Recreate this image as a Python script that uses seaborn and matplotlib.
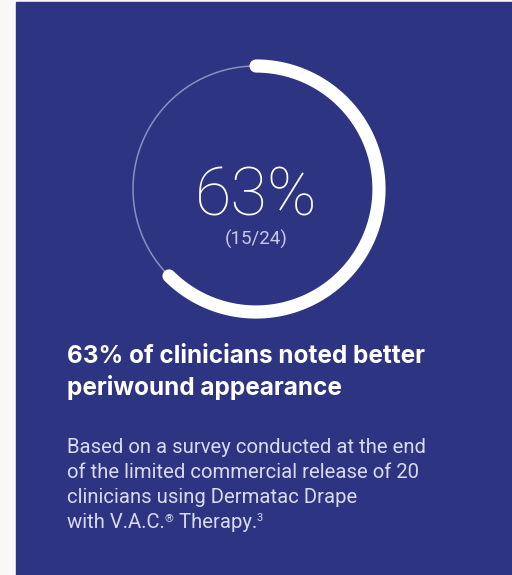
import numpy as np
import matplotlib
matplotlib.use("Agg")
import matplotlib.pyplot as plt
import seaborn as sns

# Survey figures
responded = 15
surveyed = 24
pct_label = "63%"
headline = ["63% of clinicians noted better", "periwound appearance"]
body_lines = ["Based on a survey conducted at the end",
              "of the limited commercial release of 20",
              "clinicians using Dermatac Drape"]
last_line = ["with V.A.C.", "\u00ae", " Therapy.", "3"]

navy = "#2d3481"
sns.set_theme(style="white")
plt.rcParams["font.family"] = ["Roboto", "DejaVu Sans"]

W, H = 512, 575
fig = plt.figure(figsize=(W / 100, H / 100), dpi=100)
fig.patch.set_facecolor("#f9f8f6")

# background panel and text layer (pixel coords, y down)
bg = fig.add_axes([0, 0, 1, 1])
bg.set_xlim(0, W)
bg.set_ylim(H, 0)
bg.axis("off")
bg.add_patch(plt.Rectangle((16, 2), W - 16, H, color=navy, zorder=0))

# ring
cx, cy, R = 256, 189, 123
box = 150
pax = fig.add_axes([(cx - box) / W, (H - cy - box) / H, 2 * box / W, 2 * box / H],
                   projection="polar")
pax.set_theta_zero_location("N")
pax.set_theta_direction(-1)
pax.set_ylim(0, box)
pax.axis("off")
pax.patch.set_alpha(0)

full = np.linspace(0, 2 * np.pi, 400)
sns.lineplot(x=full, y=np.full_like(full, R), ax=pax, color="#8a90c2",
             linewidth=1.1, sort=False, estimator=None)
frac = responded / surveyed
arc = np.linspace(0, 2 * np.pi * frac, 300)
sns.lineplot(x=arc, y=np.full_like(arc, R), ax=pax, color="white",
             linewidth=9.5, sort=False, estimator=None, solid_capstyle="round")

bg.text(cx, 216, pct_label, color="white", fontsize=48, fontweight="light",
        ha="center", va="baseline")
bg.text(cx, 245, f"({responded}/{surveyed})", color="#c9cbe6", fontsize=13.5,
        ha="center", va="baseline")

# headline
for i, line in enumerate(headline):
    bg.text(67, 363 + 32 * i, line, color="white", fontsize=17.5,
            fontweight="bold", ha="left", va="baseline",
            family=["Inter", "DejaVu Sans"])

body_col = "#d9dbee"
for i, line in enumerate(body_lines):
    bg.text(67, 453 + 25 * i, line, color=body_col, fontsize=14.6,
            ha="left", va="baseline")

# last line with superscripts
fig.canvas.draw()
r = fig.canvas.get_renderer()
x = 67
y = 453 + 25 * 3
sizes = [14.6, 8, 14.6, 8]
shifts = [0, -6, 0, -7]
for piece, fs, dy in zip(last_line, sizes, shifts):
    t = bg.text(x, y + dy, piece, color=body_col, fontsize=fs,
                ha="left", va="baseline")
    ext = t.get_window_extent(r)
    x += ext.width * W / fig.bbox.width

fig.savefig("out.png", dpi=100, facecolor=fig.get_facecolor())
